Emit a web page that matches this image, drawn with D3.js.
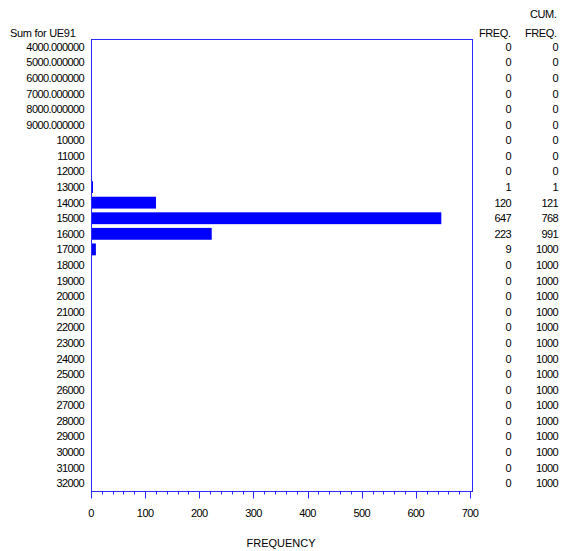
<!DOCTYPE html>
<html>
<head>
<meta charset="utf-8">
<script src="https://cdn.jsdelivr.net/npm/d3@7/dist/d3.min.js"></script>
<style>
  body { margin: 0; background: #fff; }
  text { font-family: "Liberation Sans", Arial, sans-serif; fill: #000; }
</style>
</head>
<body>
<svg id="chart" width="563" height="551"></svg>
<script>
// Data
const categories = ["4000.000000","5000.000000","6000.000000","7000.000000","8000.000000","9000.000000",
  "10000","11000","12000","13000","14000","15000","16000","17000","18000","19000","20000","21000",
  "22000","23000","24000","25000","26000","27000","28000","29000","30000","31000","32000"];
const freq = [0,0,0,0,0,0,0,0,0,1,120,647,223,9,0,0,0,0,0,0,0,0,0,0,0,0,0,0,0];
const cumFreq = [0,0,0,0,0,0,0,0,0,1,121,768,991,1000,1000,1000,1000,1000,1000,1000,1000,1000,1000,1000,1000,1000,1000,1000,1000];
const xTicks = [0,100,200,300,400,500,600,700];
const xMinorTicks = d3.range(0, 701, 20);

const svg = d3.select("#chart");
const pLeft = 91, pRight = 472, pTop = 39, pBottom = 491;

const x = d3.scaleLinear().domain([0, 700]).range([pLeft, 470]);
const y = d3.scaleBand().domain(categories).range([pTop, pBottom]).paddingInner(0.24).paddingOuter(0.12);

// Bars (nonzero bars get a minimum visible width, as in the original)
svg.append("g").selectAll("rect").data(categories).join("rect")
  .attr("x", x(0))
  .attr("y", d => y(d))
  .attr("width", (d, i) => freq[i] > 0 ? Math.max(2, x(freq[i]) - x(0)) : 0)
  .attr("height", y.bandwidth())
  .attr("fill", "#0000ff");

// Frame
svg.append("rect")
  .attr("x", pLeft + 0.5).attr("y", pTop + 0.5)
  .attr("width", pRight - pLeft).attr("height", pBottom - pTop)
  .attr("fill", "none").attr("stroke", "#2a2aff").attr("stroke-width", 1);

// X axis major/minor ticks
const axisG = svg.append("g").attr("transform", `translate(0.5,${pBottom + 0.5})`);
axisG.selectAll("line.minor").data(xMinorTicks).join("line")
  .attr("class", "minor")
  .attr("x1", d => Math.round(x(d))).attr("x2", d => Math.round(x(d)))
  .attr("y1", 0).attr("y2", 3)
  .attr("stroke", "#2a2aff");
axisG.selectAll("line.major").data(xTicks).join("line")
  .attr("class", "major")
  .attr("x1", d => Math.round(x(d))).attr("x2", d => Math.round(x(d)))
  .attr("y1", 0).attr("y2", 7)
  .attr("stroke", "#2a2aff");

svg.append("g").selectAll("text").data(xTicks).join("text")
  .attr("x", d => x(d)).attr("y", 517)
  .attr("text-anchor", "middle")
  .style("font-size", "11px").style("letter-spacing", "-0.6px")
  .text(d => d);

svg.append("text").attr("x", 281).attr("y", 547)
  .attr("text-anchor", "middle").style("font-size", "11px")
  .text("FREQUENCY");

// Category labels
const yc = d => y(d) + y.bandwidth() / 2 + 4;
svg.append("g").selectAll("text").data(categories).join("text")
  .attr("x", 84).attr("y", d => yc(d))
  .attr("text-anchor", "end")
  .style("font-size", "11px").style("letter-spacing", "-0.6px")
  .text(d => d);

svg.append("text").attr("x", 10).attr("y", 37)
  .style("font-size", "11px").style("letter-spacing", "-0.3px")
  .text("Sum for UE91");

// Right columns
svg.append("text").attr("x", 479).attr("y", 37).style("font-size", "11px").style("letter-spacing", "-0.4px").text("FREQ.");
svg.append("text").attr("x", 530).attr("y", 18).style("font-size", "11px").style("letter-spacing", "-0.4px").text("CUM.");
svg.append("text").attr("x", 525).attr("y", 37).style("font-size", "11px").style("letter-spacing", "-0.4px").text("FREQ.");

svg.append("g").selectAll("text").data(categories).join("text")
  .attr("x", 511).attr("y", d => yc(d))
  .attr("text-anchor", "end")
  .style("font-size", "11px").style("letter-spacing", "-0.6px")
  .text((d, i) => freq[i]);

svg.append("g").selectAll("text").data(categories).join("text")
  .attr("x", 558).attr("y", d => yc(d))
  .attr("text-anchor", "end")
  .style("font-size", "11px").style("letter-spacing", "-0.6px")
  .text((d, i) => cumFreq[i]);
</script>
</body>
</html>
